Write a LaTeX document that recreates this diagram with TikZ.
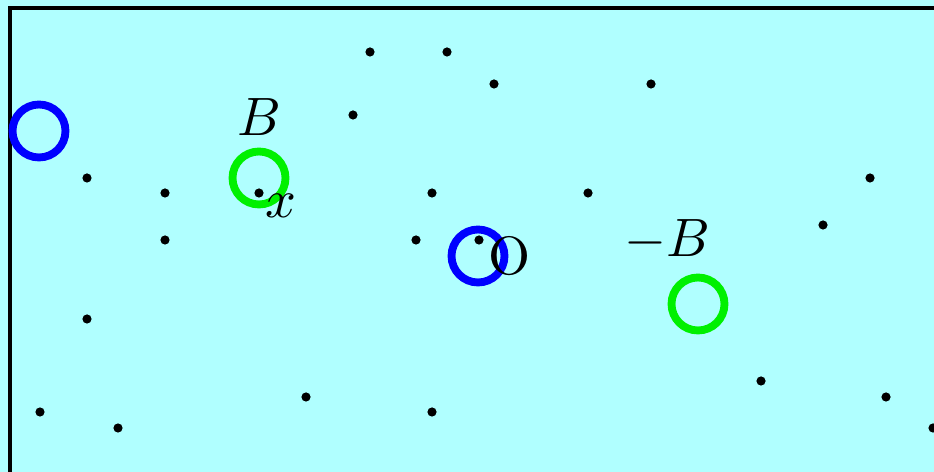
\documentclass[tikz,border=0pt]{standalone}
\usepackage{tikz}
\usetikzlibrary{positioning}
\definecolor{bgcyan}{RGB}{176,255,255}
\definecolor{ringblue}{RGB}{0,0,255}
\definecolor{ringgreen}{RGB}{0,240,0}

\begin{document}
\begin{tikzpicture}[
    x=0.185pt, y=-0.185pt,
    ring/.style={circle, draw, line width=1.45pt, minimum size=9.8pt, inner sep=0pt},
    blue ring/.style={ring, draw=ringblue},
    green ring/.style={ring, draw=ringgreen},
    lbl/.style={inner sep=0pt, font=\normalsize}
]

% Hintergrund
\fill[bgcyan] (0,0) rectangle (934,472);
\useasboundingbox (0,0) rectangle (934,472);
\draw[line width=0.75pt] (10,480) -- (10,8) -- (945,8);

% Punkte
\foreach \px/\py in {370/52, 447/52, 494/84, 651/84, 353/115,
    87/178, 165/193, 259/193, 432/193, 588/193, 870/178,
    165/240, 416/240, 479/240, 823/225, 87/319,
    40/412, 118/428, 306/397, 432/412, 761/381, 886/397, 933/428}
    \fill (\px,\py) circle[radius=0.85pt];

% Kreise
\node[blue ring] (leftring) at (39,131) {};
\node[green ring] (ringB) at (259,178) {};
\node[blue ring] (ringO) at (478,256) {};
\node[green ring] (ringminusB) at (698,304) {};

% Beschriftungen
\node[lbl] (labB) at (259,117) {$B$};
\node[lbl] (labx) at (281,206) {$x$};
\node[lbl] (labO) at (510,256) {O};
\node[lbl] (labminusB) at (667,240) {$-B$};

\end{tikzpicture}
\end{document}
